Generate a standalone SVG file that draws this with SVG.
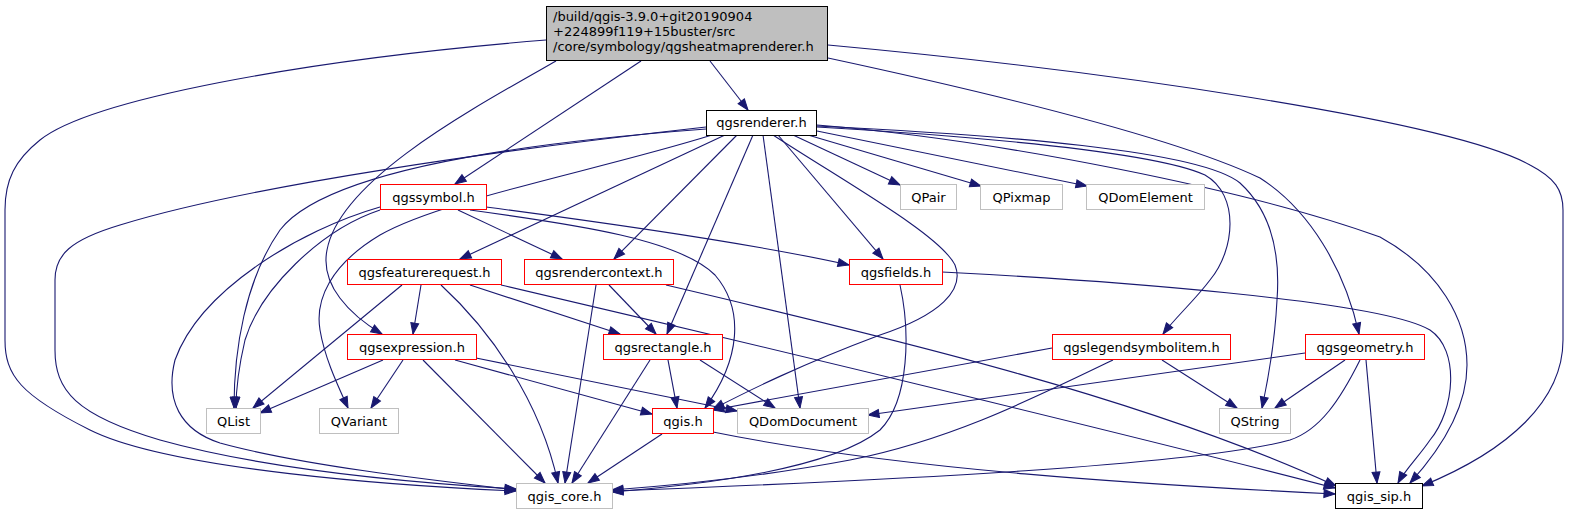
<svg xmlns="http://www.w3.org/2000/svg" width="1569" height="515" viewBox="0 0 1569 515">
<style>
.n rect{fill:#ffffff;stroke-width:1}
.r rect{stroke:#ff0000}
.g rect{stroke:#bfbfbf}
.b rect{stroke:#000000}
text{font-family:"DejaVu Sans","Liberation Sans",sans-serif;font-size:13px;fill:#000000;text-anchor:middle}
#edges path{fill:none;stroke:#191970;stroke-width:1.1;marker-end:url(#ah)}
</style>
<defs>
<marker id="ah" markerWidth="11" markerHeight="8" refX="11" refY="4" orient="auto" markerUnits="userSpaceOnUse" overflow="visible">
<path d="M0,0 L11,4 L0,8 z" fill="#191970" stroke="#191970" stroke-width="1"/>
</marker>
</defs>
<rect width="1569" height="515" fill="#ffffff"/>
<g id="edges">
<path d="M546,40 C 300,60 90,100 40,140 C 15,160 5,180 5,210 L5,340 C 5,375 20,395 90,430 C 170,470 400,486 516,491"/>
<path d="M710,61 L748,110"/>
<path d="M641,61 L455,184"/>
<path d="M556,61 C 470,110 340,180 327,250 C 320,285 350,315 382,334"/>
<path d="M828,58 C 1000,95 1180,140 1260,178 C 1310,210 1345,270 1359,334"/>
<path d="M828,45 C 1100,70 1450,120 1530,165 C 1555,178 1563,190 1563,210 L1563,340 C 1563,400 1510,450 1422,486"/>
<path d="M706,127 C 500,150 250,185 120,225 C 70,240 55,255 55,280 L55,350 C 55,390 75,415 160,440 C 260,468 400,482 516,489"/>
<path d="M706,129 C 560,140 330,165 280,230 C 245,280 234,350 234,408"/>
<path d="M712,135 C 600,170 440,200 380,235 C 330,265 315,300 320,330 C 325,360 340,390 348,408"/>
<path d="M725,135 L460,259"/>
<path d="M737,135 L614,259"/>
<path d="M753,135 L667,334"/>
<path d="M763,135 L800,408"/>
<path d="M773,135 C 850,185 940,235 955,265 C 965,290 940,315 880,335 C 800,365 750,390 713,409"/>
<path d="M778,135 L883,259"/>
<path d="M793,135 L900,185"/>
<path d="M808,135 L981,186"/>
<path d="M817,131 L1087,186"/>
<path d="M817,127 C 950,135 1150,150 1205,175 C 1240,195 1235,250 1210,280 C 1195,300 1175,318 1163,334"/>
<path d="M817,126 C 1000,135 1200,150 1240,183 C 1275,215 1280,260 1277,300 C 1275,340 1268,380 1262,408"/>
<path d="M817,125 C 1000,140 1250,190 1380,237 C 1440,270 1467,320 1467,365 C 1467,410 1440,450 1410,483"/>
<path d="M380,207 C 300,230 200,290 175,360 C 165,400 180,430 220,443 C 300,465 430,480 516,490"/>
<path d="M380,210 C 320,230 260,290 245,340 C 238,370 236,390 236,408"/>
<path d="M458,210 L562,259"/>
<path d="M470,210 C 580,225 680,240 715,275 C 745,310 740,360 705,408"/>
<path d="M486,207 C 600,222 760,245 849,265"/>
<path d="M402,285 L253,408"/>
<path d="M421,285 L413,334"/>
<path d="M441,285 C 490,330 540,400 558,483"/>
<path d="M470,285 L620,334"/>
<path d="M501,285 C 800,355 1150,440 1335,488"/>
<path d="M596,285 L565,483"/>
<path d="M609,285 L656,334"/>
<path d="M666,285 C 900,340 1150,400 1336,486"/>
<path d="M900,285 C 910,330 910,400 880,430 C 830,470 700,485 612,492"/>
<path d="M942,272 C 1100,280 1380,300 1430,330 C 1460,350 1455,410 1430,440 C 1420,455 1405,470 1398,483"/>
<path d="M383,360 L260,413"/>
<path d="M403,360 L371,408"/>
<path d="M423,360 L545,483"/>
<path d="M455,360 L652,414"/>
<path d="M476,358 L737,411"/>
<path d="M650,360 L572,483"/>
<path d="M668,360 L677,408"/>
<path d="M700,360 L775,408"/>
<path d="M662,434 L588,483"/>
<path d="M713,432 C 900,470 1150,485 1335,494"/>
<path d="M1052,348 L713,410"/>
<path d="M1113,360 C 1030,400 950,440 850,460 C 760,477 680,485 612,490"/>
<path d="M1162,360 L1237,408"/>
<path d="M1305,353 L868,415"/>
<path d="M1345,360 L1275,408"/>
<path d="M1360,360 C 1340,400 1320,430 1290,440 C 1200,465 900,480 612,491"/>
<path d="M1366,360 L1377,483"/>
</g>
<g id="node-top" class="n b"><rect x="546.5" y="6.5" width="281" height="54" style="fill:#bfbfbf"/>
<text x="553" y="21" style="text-anchor:start">/build/qgis-3.9.0+git20190904</text>
<text x="553" y="36" style="text-anchor:start">+224899f119+15buster/src</text>
<text x="553" y="51" style="text-anchor:start">/core/symbology/qgsheatmaprenderer.h</text></g>
<g id="node-qgsrenderer" class="n b"><rect x="706.5" y="110.5" width="110" height="25"/><text x="761.5" y="127">qgsrenderer.h</text></g>
<g id="node-qgssymbol" class="n r"><rect x="380.5" y="184.5" width="106" height="25"/><text x="433.5" y="201.5">qgssymbol.h</text></g>
<g id="node-QPair" class="n g"><rect x="900.5" y="184.5" width="56" height="25"/><text x="928.5" y="201.5">QPair</text></g>
<g id="node-QPixmap" class="n g"><rect x="980.5" y="184.5" width="82" height="25"/><text x="1021.5" y="201.5">QPixmap</text></g>
<g id="node-QDomElement" class="n g"><rect x="1086.5" y="184.5" width="118" height="25"/><text x="1145.5" y="201.5">QDomElement</text></g>
<g id="node-qgsfeaturerequest" class="n r"><rect x="347.5" y="259.5" width="154" height="25"/><text x="424.5" y="276.5">qgsfeaturerequest.h</text></g>
<g id="node-qgsrendercontext" class="n r"><rect x="524.5" y="259.5" width="149" height="25"/><text x="599" y="276.5">qgsrendercontext.h</text></g>
<g id="node-qgsfields" class="n r"><rect x="849.5" y="259.5" width="93" height="25"/><text x="896" y="276.5">qgsfields.h</text></g>
<g id="node-qgsexpression" class="n r"><rect x="347.5" y="334.5" width="129" height="25"/><text x="412" y="351.5">qgsexpression.h</text></g>
<g id="node-qgsrectangle" class="n r"><rect x="603.5" y="334.5" width="119" height="25"/><text x="663" y="351.5">qgsrectangle.h</text></g>
<g id="node-qgslegendsymbolitem" class="n r"><rect x="1052.5" y="334.5" width="178" height="25"/><text x="1141.5" y="351.5">qgslegendsymbolitem.h</text></g>
<g id="node-qgsgeometry" class="n r"><rect x="1305.5" y="334.5" width="119" height="25"/><text x="1365" y="351.5">qgsgeometry.h</text></g>
<g id="node-QList" class="n g"><rect x="206.5" y="408.5" width="54" height="25"/><text x="233.5" y="425.5">QList</text></g>
<g id="node-QVariant" class="n g"><rect x="319.5" y="408.5" width="79" height="25"/><text x="359" y="425.5">QVariant</text></g>
<g id="node-qgis" class="n r"><rect x="652.5" y="408.5" width="61" height="25"/><text x="683" y="425.5">qgis.h</text></g>
<g id="node-QDomDocument" class="n g"><rect x="737.5" y="408.5" width="131" height="25"/><text x="803" y="425.5">QDomDocument</text></g>
<g id="node-QString" class="n g"><rect x="1219.5" y="408.5" width="71" height="25"/><text x="1255" y="425.5">QString</text></g>
<g id="node-qgis_core" class="n g"><rect x="516.5" y="483.5" width="96" height="25"/><text x="564.5" y="500.5">qgis_core.h</text></g>
<g id="node-qgis_sip" class="n b"><rect x="1335.5" y="483.5" width="87" height="25"/><text x="1379" y="500.5">qgis_sip.h</text></g>
</svg>
